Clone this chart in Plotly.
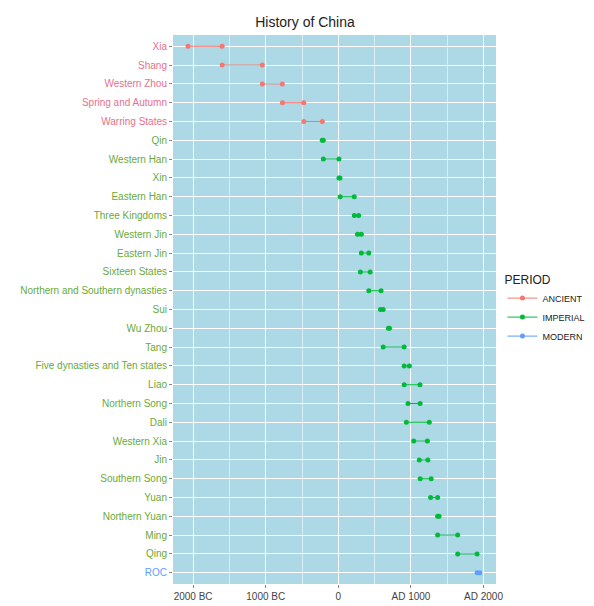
import plotly.graph_objects as go

dynasties = ["Xia","Shang","Western Zhou","Spring and Autumn","Warring States","Qin","Western Han","Xin",
             "Eastern Han","Three Kingdoms","Western Jin","Eastern Jin","Sixteen States",
             "Northern and Southern dynasties","Sui","Wu Zhou","Tang","Five dynasties and Ten states",
             "Liao","Northern Song","Dali","Western Xia","Jin","Southern Song","Yuan","Northern Yuan",
             "Ming","Qing","ROC"]
start = [-2070,-1600,-1046,-770,-475,-221,-206,9,25,220,265,317,304,420,581,690,618,907,907,960,937,1038,1115,1127,1271,1368,1368,1644,1912]
end   = [-1600,-1046,-771,-476,-221,-207,9,23,220,280,317,420,439,589,618,705,907,979,1125,1127,1253,1227,1234,1279,1368,1388,1644,1912,1949]
period = ["ANCIENT"]*5 + ["IMPERIAL"]*23 + ["MODERN"]
colors = {"ANCIENT":"#F8766D","IMPERIAL":"#00BA38","MODERN":"#619CFF"}
label_colors = {"ANCIENT":"#E8708C","IMPERIAL":"#6AAA3A","MODERN":"#619CFF"}
tick_vals = [-2000,-1000,0,1000,2000]
tick_text = ["2000 BC","1000 BC","0","AD 1000","AD 2000"]

fig = go.Figure()
for p in ["ANCIENT","IMPERIAL","MODERN"]:
    xs, ys = [], []
    for d,s,e,pp in zip(dynasties,start,end,period):
        if pp == p:
            xs += [s,e,None]; ys += [d,d,None]
    fig.add_trace(go.Scatter(x=xs, y=ys, mode="lines+markers", name=p,
                             line=dict(color=colors[p], width=1),
                             marker=dict(color=colors[p], size=5)))

fig.update_layout(
    width=594, height=606, plot_bgcolor="lightblue", paper_bgcolor="white",
    margin=dict(l=165, r=92, t=27, b=23),
    title=dict(text="History of China", x=0.5, xanchor="center", y=0.985, font=dict(size=14, color="#222")),
    font=dict(family="Liberation Sans, Arial", size=10, color="#444"),
    legend=dict(title=dict(text="PERIOD", font=dict(size=12, color="#222")), x=1.02, y=0.5, yanchor="middle",
                bgcolor="white", font=dict(size=9, color="#222")),
)
fig.update_xaxes(tickvals=tick_vals, ticktext=tick_text, range=[-2277,2172], showgrid=True,
                 gridcolor="white", zeroline=False, ticks="outside", ticklen=3, tickcolor="#888",
                 minor=dict(dtick=500, tick0=-500, showgrid=True, gridcolor="rgba(255,255,255,0.55)", gridwidth=0.5))
fig.update_yaxes(categoryorder="array", categoryarray=dynasties[::-1],
                 tickvals=dynasties,
                 ticktext=[f"<span style='color:{label_colors[p]}'>{d}</span>" for d,p in zip(dynasties,period)],
                 showgrid=True, gridcolor="white", ticks="outside", ticklen=3, tickcolor="#888",
                 range=[-0.6, len(dynasties)-0.4])
fig.write_html("out.html")
